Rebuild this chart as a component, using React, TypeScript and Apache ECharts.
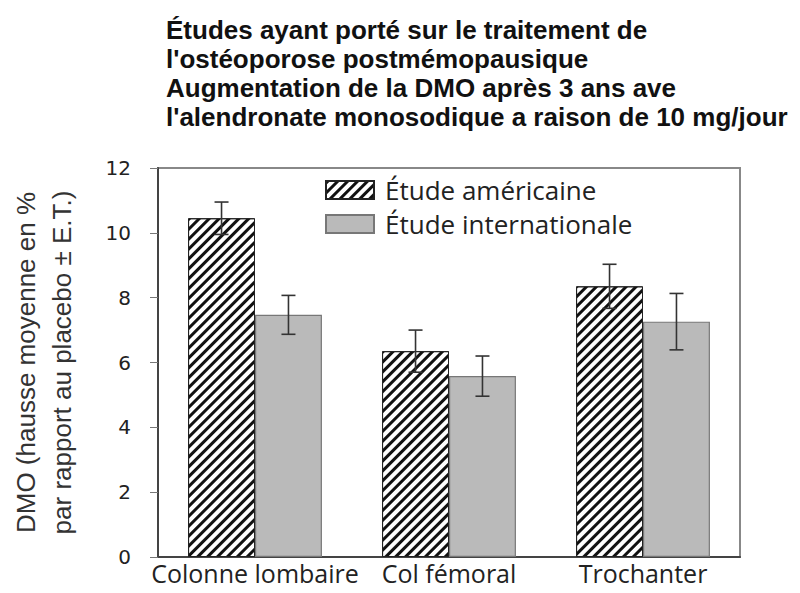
import React, { useEffect, useRef } from "react";
import * as echarts from "echarts";

const categories = ["Colonne lombaire", "Col fémoral", "Trochanter"];
const seriesNames = ["Étude américaine", "Étude internationale"];
const americanValues = [10.45, 6.35, 8.35];
const americanErrors = [0.5, 0.65, 0.68];
const internationalValues = [7.47, 5.58, 7.26];
const internationalErrors = [0.6, 0.62, 0.87];
const titleLines = [
  "Études ayant porté sur le traitement de",
  "l'ostéoporose postmémopausique",
  "Augmentation de la DMO après 3 ans ave",
  "l'alendronate monosodique a raison de 10 mg/jour",
];
const yAxisName = "DMO (hausse moyenne en %\npar rapport au placebo ± E.T.)";

const BAR_FRAC = 0.345;

function errorSeries(values: number[], errors: number[], side: number) {
  return {
    type: "custom",
    silent: true,
    z: 5,
    data: values.map((v, i) => [i, v - errors[i], v + errors[i]]),
    encode: { x: 0, y: [1, 2] },
    renderItem: (params: any, api: any) => {
      const i = api.value(0);
      const lo = api.coord([i, api.value(1)]);
      const hi = api.coord([i, api.value(2)]);
      const band = api.size([1, 0])[0];
      const x = lo[0] + side * band * BAR_FRAC * 0.5;
      const cap = 7;
      const style = { stroke: "#333", lineWidth: 1.6 };
      return {
        type: "group",
        children: [
          { type: "line", shape: { x1: x, y1: lo[1], x2: x, y2: hi[1] }, style },
          { type: "line", shape: { x1: x - cap, y1: hi[1], x2: x + cap, y2: hi[1] }, style },
          { type: "line", shape: { x1: x - cap, y1: lo[1], x2: x + cap, y2: lo[1] }, style },
        ],
      };
    },
  };
}

export default function App() {
  const ref = useRef<HTMLDivElement>(null);
  useEffect(() => {
    if (!ref.current) return;
    const chart = echarts.init(ref.current, undefined, { renderer: "svg" });
    const hatch = {
      symbol: "rect",
      color: "#111",
      backgroundColor: "#fff",
      dashArrayX: [1, 0],
      dashArrayY: [3, 4],
      rotation: -Math.PI / 4,
      symbolSize: 1,
    };
    chart.setOption({
      animation: false,
      backgroundColor: "#fff",
      graphic: [
        {
          type: "text",
          x: 166,
          y: 15,
          style: {
            text: titleLines.join("\n"),
            fontFamily: "Liberation Sans",
            fontWeight: "bold",
            fontSize: 26,
            lineHeight: 29,
            fill: "#111",
            verticalAlign: "top",
            align: "left",
          },
        },
      ],
      legend: {
        orient: "vertical",
        left: 320,
        top: 172,
        itemWidth: 48,
        itemHeight: 18,
        itemGap: 8,
        icon: "rect",
        data: seriesNames,
        textStyle: { fontFamily: "Open Sans", fontSize: 26, color: "#222", padding: [0, 0, 0, 6] },
      },
      grid: {
        left: 152,
        right: 60,
        top: 168,
        bottom: 36,
        show: true,
        borderColor: "#888",
        borderWidth: 2,
      },
      xAxis: {
        type: "category",
        data: categories,
        axisLine: { lineStyle: { color: "#444", width: 2 } },
        axisTick: { show: false },
        axisLabel: { interval: 0, fontFamily: "Open Sans", fontSize: 25, color: "#222", margin: 3 },
      },
      yAxis: {
        type: "value",
        min: 0,
        max: 12,
        interval: 2,
        name: yAxisName,
        nameLocation: "middle",
        nameRotate: 90,
        nameGap: 78,
        nameTextStyle: { fontFamily: "Liberation Sans", fontSize: 26, color: "#333", lineHeight: 36 },
        axisLine: { show: true, lineStyle: { color: "#444", width: 2 } },
        axisTick: { show: true, length: 8, inside: false, lineStyle: { color: "#777" } },
        splitLine: { show: false },
        axisLabel: { fontFamily: "DejaVu Sans", fontSize: 20, color: "#222", margin: 27 },
      },
      series: [
        {
          name: seriesNames[0],
          type: "bar",
          data: americanValues,
          barWidth: BAR_FRAC * 100 + "%",
          barGap: "0%",
          itemStyle: { color: "#fff", borderColor: "#222", borderWidth: 1, decal: hatch },
        },
        {
          name: seriesNames[1],
          type: "bar",
          data: internationalValues,
          barWidth: BAR_FRAC * 100 + "%",
          barGap: "0%",
          itemStyle: { color: "#bababa", borderColor: "#777", borderWidth: 1.2 },
        },
        errorSeries(americanValues, americanErrors, -1),
        errorSeries(internationalValues, internationalErrors, 1),
      ],
    });
    return () => chart.dispose();
  }, []);
  return <div ref={ref} style={{ width: 800, height: 593, position: "absolute", left: 0, top: 0 }} />;
}
